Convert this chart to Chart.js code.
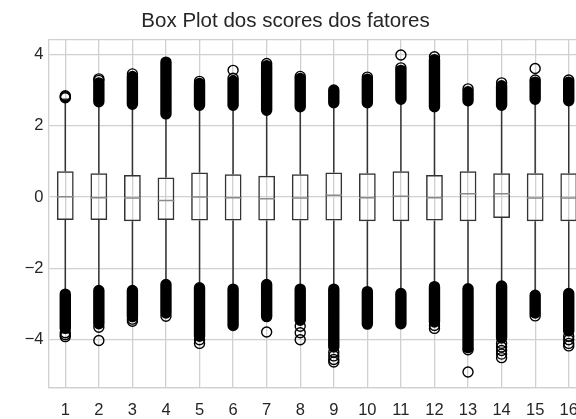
<!DOCTYPE html>
<html>
<head>
<meta charset="utf-8">
<script src="https://cdn.jsdelivr.net/npm/chart.js@4/dist/chart.umd.min.js"></script>
<style>
  html, body { margin: 0; padding: 0; width: 576px; height: 419px; overflow: hidden; background: #fff; }
  canvas { display: block; }
</style>
</head>
<body>
<canvas id="boxChart" width="600" height="419"></canvas>
<script>
// factors (x axis)
const factors = ["1","2","3","4","5","6","7","8","9","10","11","12","13","14","15","16"];
// box stats
const q1 = [-0.64,-0.64,-0.68,-0.64,-0.66,-0.66,-0.66,-0.66,-0.66,-0.68,-0.68,-0.66,-0.68,-0.59,-0.68,-0.68];
const q3 = [0.72,0.67,0.62,0.55,0.69,0.64,0.60,0.64,0.69,0.67,0.72,0.62,0.72,0.67,0.67,0.67];
const medians = [0.01,-0.02,-0.03,-0.10,0.0,-0.02,-0.05,-0.03,0.05,-0.02,0.02,-0.02,0.09,0.09,-0.03,-0.03];
const whiskerHigh = [2.74,2.64,2.57,2.30,2.54,2.54,2.40,2.50,2.61,2.61,2.71,2.50,2.67,2.54,2.71,2.67];
const whiskerLow = [-2.69,-2.59,-2.59,-2.42,-2.51,-2.55,-2.42,-2.55,-2.55,-2.62,-2.67,-2.48,-2.54,-2.46,-2.72,-2.67];
// dense outlier runs [from, to] (centres of the packed circles), null = none
const upperRuns = [null,[2.67,3.2],[2.6,3.38],[2.33,3.78],[2.57,3.18],[2.57,3.25],[2.43,3.68],[2.53,3.32],
  [2.64,3.0],[2.64,3.3],[2.74,3.55],[2.53,3.85],[2.7,2.95],[2.57,3.12],[2.74,3.22],[2.7,3.22]];
const lowerRuns = [[-3.68,-2.72],[-3.55,-2.62],[-3.35,-2.62],[-3.25,-2.45],[-3.9,-2.54],[-3.6,-2.58],[-3.35,-2.45],[-3.45,-2.58],
  [-4.2,-2.58],[-3.56,-2.65],[-3.55,-2.7],[-3.5,-2.51],[-4.22,-2.57],[-3.95,-2.49],[-3.25,-2.75],[-3.75,-2.7]];
// single outliers that show as separate circles
const outliers = [
  [2.78,2.81,2.84,-3.80,-3.86,-3.91],
  [3.27,3.31,-3.65,-4.02],
  [3.45,-3.42,-3.48],
  [-3.34],
  [3.24,-4.0,-4.1],
  [3.33,3.55],
  [3.74,-3.78],
  [3.38,-3.62,-3.8,-4.0],
  [-4.35,-4.45,-4.55,-4.62],
  [3.36],
  [3.62,3.98],
  [3.93,-3.6,-3.68],
  [3.03,-4.28,-4.9],
  [3.2,-4.1,-4.2,-4.3,-4.4,-4.5],
  [3.28,3.6,-3.33],
  [3.28,-3.9,-4.0,-4.1,-4.17]
];
// y axis
const yTicks = [-4,-2,0,2,4];
const yMin = -5.35;
const yMax = 4.40;

const font = "'Liberation Sans', Arial, sans-serif";
const textColor = "#262626";
const gridColor = "#d0d0d0";
const lineColor = "#333333";

// build the datasets from the arrays above
let boxData = factors.map((f, i) => ({ x: f, y: [q1[i], q3[i]] }));
let whiskerData = [];
let capData = [];
let runData = [];
let outlierData = [];
factors.forEach((f, i) => {
  whiskerData.push({ x: f, y: q3[i] }, { x: f, y: whiskerHigh[i] }, { x: f, y: null });
  whiskerData.push({ x: f, y: whiskerLow[i] }, { x: f, y: q1[i] }, { x: f, y: null });
  capData.push({ x: f, y: whiskerHigh[i] }, { x: f, y: whiskerLow[i] });
  [upperRuns[i], lowerRuns[i]].forEach((r) => {
    if (r) runData.push({ x: f, y: r[0] }, { x: f, y: r[1] }, { x: f, y: null });
  });
  outliers[i].forEach((v) => outlierData.push({ x: f, y: v }));
});
let medianData = factors.map((f, i) => ({ x: f, y: medians[i] }));

// put the title over x=285 like the original, not over the canvas centre
const titleShift = {
  id: "titleShift",
  afterLayout(chart) {
    const t = chart.titleBlock;
    if (t) { t.left = 0; t.right = 571; }
  }
};

const ctx = document.getElementById("boxChart").getContext("2d");
new Chart(ctx, {
  type: "bar",
  data: {
    labels: factors,
    datasets: [
      {
        type: "line", label: "outliers", data: outlierData, showLine: false, order: 1,
        pointStyle: "circle", pointRadius: 5, pointBorderWidth: 1.4,
        pointBorderColor: "#000", pointBackgroundColor: "rgba(0,0,0,0)"
      },
      {
        type: "line", label: "runs", data: runData, spanGaps: false, order: 2,
        borderColor: "#000", borderWidth: 11.4, borderCapStyle: "round", pointRadius: 0, fill: false
      },
      {
        type: "line", label: "caps", data: capData, showLine: false, order: 3,
        pointStyle: "line", pointRadius: 4.2, pointBorderWidth: 1.5, pointBorderColor: lineColor
      },
      {
        type: "line", label: "medians", data: medianData, showLine: false, order: 3,
        pointStyle: "line", pointRadius: 8.4, pointBorderWidth: 1.5, pointBorderColor: "#8a8a8a"
      },
      {
        type: "line", label: "whiskers", data: whiskerData, spanGaps: false, order: 4,
        borderColor: lineColor, borderWidth: 1.5, pointRadius: 0, fill: false
      },
      {
        type: "bar", label: "boxes", data: boxData, order: 5,
        backgroundColor: "rgba(255,255,255,0)", borderColor: lineColor, borderWidth: 1.5,
        borderSkipped: false, barPercentage: 0.5, categoryPercentage: 1.0
      }
    ]
  },
  options: {
    responsive: false,
    animation: false,
    events: [],
    layout: { padding: { left: 0, right: 14.5, top: 0, bottom: 0 } },
    plugins: {
      legend: { display: false },
      tooltip: { enabled: false },
      title: {
        display: true,
        text: "Box Plot dos scores dos fatores",
        color: textColor,
        font: { family: font, size: 20.5, weight: "normal" },
        padding: { top: 9, bottom: 6.4 }
      }
    },
    scales: {
      x: {
        type: "category",
        offset: true,
        grid: { offset: false, color: gridColor, lineWidth: 1.3, drawTicks: false },
        border: { color: gridColor, width: 1.3 },
        ticks: { color: textColor, font: { family: font, size: 16.5 }, padding: 13, maxRotation: 0 },
        afterFit: (s) => { s.height = 31; }
      },
      y: {
        type: "linear",
        min: yMin,
        max: yMax,
        grid: { color: gridColor, lineWidth: 1.3, drawTicks: false },
        border: { color: gridColor, width: 1.3 },
        afterBuildTicks: (s) => { s.ticks = [yMin, ...yTicks, yMax].map((v) => ({ value: v })); },
        ticks: {
          color: textColor,
          font: { family: font, size: 16.5 },
          padding: 5,
          callback: (v) => yTicks.includes(v) ? (v < 0 ? "\u2212" + Math.abs(v) : String(v)) : ""
        },
        afterFit: (s) => { s.width = 48.5; }
      }
    }
  },
  plugins: [titleShift]
});
</script>
</body>
</html>
